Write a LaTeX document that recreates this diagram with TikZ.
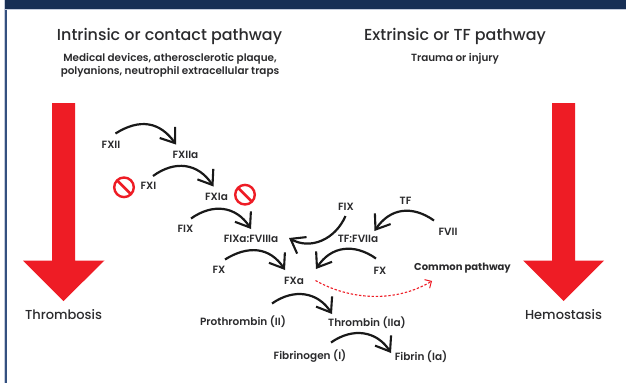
\documentclass[tikz,border=0pt]{standalone}
\usepackage{fontspec}
\setmainfont{Poppins}
\newfontfamily\semi{Poppins Medium}
\newfontfamily\semib{Poppins SemiBold}
\usetikzlibrary{arrows.meta}
\definecolor{navy}{HTML}{172F55}
\definecolor{sideb}{HTML}{34507F}
\definecolor{edgeb}{HTML}{C4CCDC}
\definecolor{bred}{HTML}{EE1C25}
\definecolor{ink}{HTML}{2B2B2D}
\tikzset{
 lab/.style={inner sep=0pt,text=ink,font=\fontsize{10.5}{12}\semib},
 boldlab/.style={inner sep=0pt,text=ink,font=\fontsize{10}{12}\selectfont\bfseries},
 titlelab/.style={inner sep=0pt,text=ink,font=\fontsize{15.9}{18}\semi},
 sublab/.style={inner sep=0pt,text=ink,align=center,font=\fontsize{10.4}{13}\semib},
 endlab/.style={inner sep=0pt,text=ink,font=\fontsize{13}{15}\semi},
 react/.style={draw=black!90,line width=2.2pt,-{Straight Barb[length=13pt,width=19pt,line width=2.1pt]}},
 bigarrow/.style={fill=bred,draw=none},
}
\newcommand{\forbid}[2]{%
 \draw[bred,line width=2.4pt] (#1,#2) circle (9.8pt);
 \draw[bred,line width=2.6pt] (#1-6.8,#2-6.8) -- (#1+6.8,#2+6.8);}
\begin{document}
\begin{tikzpicture}[x=1pt,y=-1pt]
\useasboundingbox (0,0) rectangle (626,383);
\fill[white] (0,0) rectangle (626,383);
\fill[edgeb] (4,0) rectangle (5,383);
\fill[sideb] (5,0) rectangle (7,383);
\fill[edgeb] (5,8) rectangle (626,10);
\fill[navy] (5,0) rectangle (626,8.6);
% big arrows
\fill[bigarrow] (52,103) -- (75,103) -- (75,260.5) -- (104.5,260.5) -- (63.5,301) -- (23,260.5) -- (52,260.5) -- cycle;
\fill[bigarrow] (552,103) -- (575,103) -- (575,260.5) -- (604,260.5) -- (563.5,301) -- (523,260.5) -- (552,260.5) -- cycle;
% headings
\node[titlelab] (h1) at (169.5,36.5) {Intrinsic or contact pathway};
\node[titlelab] (h2) at (455,36.5) {Extrinsic or TF pathway};
\node[sublab] (s1) at (170,65.5) {Medical devices, atherosclerotic plaque,\\polyanions, neutrophil extracellular traps};
\node[sublab] (s2) at (455,58.5) {Trauma or injury};
\node[endlab] (e1) at (63.5,315) {Thrombosis};
\node[endlab] (e2) at (563.5,315) {Hemostasis};
% factors
\node[lab] (fxii) at (111,144.5) {FXII};
\node[lab] (fxiia) at (185.5,154.5) {FXIIa};
\node[lab] (fxi) at (148.5,186) {FXI};
\node[lab] (fxia) at (216.5,196.5) {FXIa};
\node[lab] (fix1) at (185.5,228.5) {FIX};
\node[lab] (fixa) at (251,238.5) {FIXa:FVIIIa};
\node[lab] (fx1) at (219,269.5) {FX};
\node[lab] (fxa) at (294,280.5) {FXa};
\node[lab] (fix2) at (346,206.5) {FIX};
\node[lab] (tf) at (405.5,200.5) {TF};
\node[lab] (fvii) at (448,232) {FVII};
\node[lab] (tffvii) at (358,239) {TF:FVIIa};
\node[lab] (fx2) at (380,271) {FX};
\node[boldlab] (common) at (462.5,268.5) {Common pathway};
\node[lab] (proth) at (243,321.5) {Prothrombin (II)};
\node[lab] (thromb) at (367,322.5) {Thrombin (IIa)};
\node[lab] (fibr) at (310,356.5) {Fibrinogen (I)};
\node[lab] (fibi) at (421,356.5) {Fibrin (Ia)};
% reaction arrows
\coordinate (a1s) at (115.5,133.5); \coordinate (a1e) at (176,144.5);
\draw[react] (a1s) .. controls (140,118) and (160,122) .. (a1e);
\coordinate (a2s) at (153,176); \coordinate (a2e) at (213.5,186.5);
\draw[react] (a2s) .. controls (175,160) and (198,163) .. (a2e);
\coordinate (a3s) at (191,218.5); \coordinate (a3e) at (251,229);
\draw[react] (a3s) .. controls (213,203) and (236,206) .. (a3e);
\coordinate (a4s) at (225,259.5); \coordinate (a4e) at (285,270);
\draw[react] (a4s) .. controls (248,245) and (270,247) .. (a4e);
\coordinate (a5s) at (345.5,216); \coordinate (a5e) at (289,238);
\draw[react] (a5s) .. controls (335,240) and (310,250) .. (a5e);
\coordinate (a6s) at (434,220.5); \coordinate (a6e) at (374.5,231);
\draw[react] (a6s) .. controls (412,205) and (390,208) .. (a6e);
\coordinate (a7s) at (376,258.5); \coordinate (a7e) at (316,269);
\draw[react] (a7s) .. controls (354,243) and (331,246) .. (a7e);
\coordinate (a8s) at (272,303.5); \coordinate (a8e) at (332,314);
\draw[react] (a8s) .. controls (294,288) and (318,292) .. (a8e);
\coordinate (a9s) at (331,342.5); \coordinate (a9e) at (391,353);
\draw[react] (a9s) .. controls (353,327) and (377,331) .. (a9e);
\coordinate (cps) at (315.5,280.5); \coordinate (cpe) at (432,281);
\draw[bred,line width=1.1pt,dash pattern=on 2.4pt off 1.8pt,-{Straight Barb[length=5pt,width=10pt,line width=1pt]}] (cps) .. controls (350,300) and (395,303) .. (cpe);
% inhibition signs
\forbid{124}{187.3}
\forbid{245}{194.7}
\end{tikzpicture}
\end{document}
